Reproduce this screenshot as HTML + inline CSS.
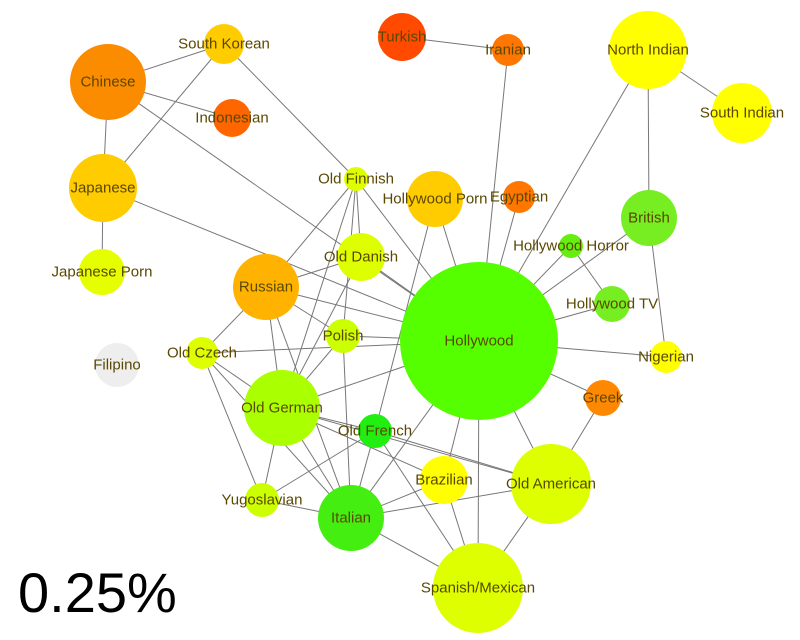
<!DOCTYPE html>
<html><head><meta charset="utf-8"><style>
html,body{margin:0;padding:0;background:#fff;width:800px;height:640px;overflow:hidden}
svg text{font-family:"Liberation Sans",sans-serif;font-size:15px;fill:#5a4800;text-anchor:middle;dominant-baseline:central}
</style></head><body>
<svg width="800" height="640" xmlns="http://www.w3.org/2000/svg">
<g stroke="#777" stroke-width="1">
<line x1="108" y1="82" x2="224" y2="44"/>
<line x1="108" y1="82" x2="103" y2="188"/>
<line x1="108" y1="82" x2="232" y2="118"/>
<line x1="108" y1="82" x2="479" y2="341"/>
<line x1="224" y1="44" x2="356" y2="179"/>
<line x1="224" y1="44" x2="103" y2="188"/>
<line x1="103" y1="188" x2="102" y2="272"/>
<line x1="103" y1="188" x2="479" y2="341"/>
<line x1="402" y1="37" x2="508" y2="50"/>
<line x1="508" y1="50" x2="479" y2="341"/>
<line x1="648" y1="50" x2="742" y2="113"/>
<line x1="648" y1="50" x2="649" y2="218"/>
<line x1="648" y1="50" x2="479" y2="341"/>
<line x1="649" y1="218" x2="666" y2="357"/>
<line x1="649" y1="218" x2="479" y2="341"/>
<line x1="571" y1="246" x2="479" y2="341"/>
<line x1="571" y1="246" x2="612" y2="304"/>
<line x1="519" y1="197" x2="479" y2="341"/>
<line x1="435" y1="199" x2="479" y2="341"/>
<line x1="435" y1="199" x2="375" y2="431"/>
<line x1="356" y1="179" x2="479" y2="341"/>
<line x1="356" y1="179" x2="266" y2="287"/>
<line x1="356" y1="179" x2="361" y2="257"/>
<line x1="356" y1="179" x2="343" y2="336"/>
<line x1="356" y1="179" x2="282" y2="408"/>
<line x1="361" y1="257" x2="479" y2="341"/>
<line x1="361" y1="257" x2="266" y2="287"/>
<line x1="361" y1="257" x2="282" y2="408"/>
<line x1="266" y1="287" x2="479" y2="341"/>
<line x1="266" y1="287" x2="202" y2="353"/>
<line x1="266" y1="287" x2="282" y2="408"/>
<line x1="266" y1="287" x2="351" y2="518"/>
<line x1="266" y1="287" x2="343" y2="336"/>
<line x1="343" y1="336" x2="479" y2="341"/>
<line x1="343" y1="336" x2="282" y2="408"/>
<line x1="343" y1="336" x2="351" y2="518"/>
<line x1="202" y1="353" x2="479" y2="341"/>
<line x1="202" y1="353" x2="282" y2="408"/>
<line x1="202" y1="353" x2="262" y2="500"/>
<line x1="202" y1="353" x2="351" y2="518"/>
<line x1="282" y1="408" x2="479" y2="341"/>
<line x1="282" y1="408" x2="375" y2="431"/>
<line x1="282" y1="408" x2="551" y2="484"/>
<line x1="282" y1="408" x2="262" y2="500"/>
<line x1="282" y1="408" x2="351" y2="518"/>
<line x1="282" y1="408" x2="444" y2="480"/>
<line x1="375" y1="431" x2="351" y2="518"/>
<line x1="375" y1="431" x2="478" y2="588"/>
<line x1="375" y1="431" x2="262" y2="500"/>
<line x1="375" y1="431" x2="551" y2="484"/>
<line x1="479" y1="341" x2="666" y2="357"/>
<line x1="479" y1="341" x2="603" y2="398"/>
<line x1="479" y1="341" x2="612" y2="304"/>
<line x1="479" y1="341" x2="551" y2="484"/>
<line x1="479" y1="341" x2="444" y2="480"/>
<line x1="479" y1="341" x2="478" y2="588"/>
<line x1="479" y1="341" x2="351" y2="518"/>
<line x1="603" y1="398" x2="551" y2="484"/>
<line x1="444" y1="480" x2="478" y2="588"/>
<line x1="351" y1="518" x2="551" y2="484"/>
<line x1="351" y1="518" x2="478" y2="588"/>
<line x1="351" y1="518" x2="444" y2="480"/>
<line x1="262" y1="500" x2="351" y2="518"/>
<line x1="551" y1="484" x2="478" y2="588"/>
</g>
<g>
<circle cx="108" cy="82" r="38" fill="#fb8c00"/>
<circle cx="224" cy="44" r="20" fill="#ffcc00"/>
<circle cx="232" cy="118" r="19" fill="#ff6600"/>
<circle cx="103" cy="188" r="34" fill="#ffcc00"/>
<circle cx="102" cy="272" r="23" fill="#e6ff00"/>
<circle cx="402" cy="37" r="24" fill="#ff4a00"/>
<circle cx="508" cy="50" r="16" fill="#ff7700"/>
<circle cx="648" cy="50" r="39" fill="#ffff00"/>
<circle cx="742" cy="113" r="30" fill="#ffff00"/>
<circle cx="356" cy="179" r="12" fill="#ddff00"/>
<circle cx="435" cy="199" r="28" fill="#ffcc00"/>
<circle cx="519" cy="197" r="16" fill="#ff7700"/>
<circle cx="649" cy="218" r="28" fill="#77ee22"/>
<circle cx="571" cy="246" r="12" fill="#66ee11"/>
<circle cx="361" cy="257" r="24" fill="#ddff00"/>
<circle cx="266" cy="287" r="33" fill="#ffb300"/>
<circle cx="612" cy="304" r="18" fill="#77ee22"/>
<circle cx="343" cy="336" r="17" fill="#ccff00"/>
<circle cx="479" cy="341" r="79" fill="#55ff00"/>
<circle cx="666" cy="357" r="16" fill="#ffff00"/>
<circle cx="202" cy="353" r="16" fill="#ddff00"/>
<circle cx="117" cy="365" r="22" fill="#eeeeee"/>
<circle cx="282" cy="408" r="38" fill="#aaff00"/>
<circle cx="603" cy="398" r="18" fill="#ff8800"/>
<circle cx="375" cy="431" r="17" fill="#22ee11"/>
<circle cx="444" cy="480" r="24" fill="#ffff00"/>
<circle cx="551" cy="484" r="40" fill="#ddff00"/>
<circle cx="262" cy="500" r="17" fill="#ccff00"/>
<circle cx="351" cy="518" r="33" fill="#44ee11"/>
<circle cx="478" cy="588" r="45" fill="#ddff00"/>
</g>
<g>
<text x="108" y="82">Chinese</text>
<text x="224" y="44">South Korean</text>
<text x="232" y="118">Indonesian</text>
<text x="103" y="188">Japanese</text>
<text x="102" y="272">Japanese Porn</text>
<text x="402" y="37">Turkish</text>
<text x="508" y="50">Iranian</text>
<text x="648" y="50">North Indian</text>
<text x="742" y="113">South Indian</text>
<text x="356" y="179">Old Finnish</text>
<text x="435" y="199">Hollywood Porn</text>
<text x="519" y="197">Egyptian</text>
<text x="649" y="218">British</text>
<text x="571" y="246">Hollywood Horror</text>
<text x="361" y="257">Old Danish</text>
<text x="266" y="287">Russian</text>
<text x="612" y="304">Hollywood TV</text>
<text x="343" y="336">Polish</text>
<text x="479" y="341">Hollywood</text>
<text x="666" y="357">Nigerian</text>
<text x="202" y="353">Old Czech</text>
<text x="117" y="365">Filipino</text>
<text x="282" y="408">Old German</text>
<text x="603" y="398">Greek</text>
<text x="375" y="431">Old French</text>
<text x="444" y="480">Brazilian</text>
<text x="551" y="484">Old American</text>
<text x="262" y="500">Yugoslavian</text>
<text x="351" y="518">Italian</text>
<text x="478" y="588">Spanish/Mexican</text>
</g>
<text x="18" y="612" style="font-size:56px;fill:#000;text-anchor:start;dominant-baseline:auto">0.25%</text>
</svg>
</body></html>
